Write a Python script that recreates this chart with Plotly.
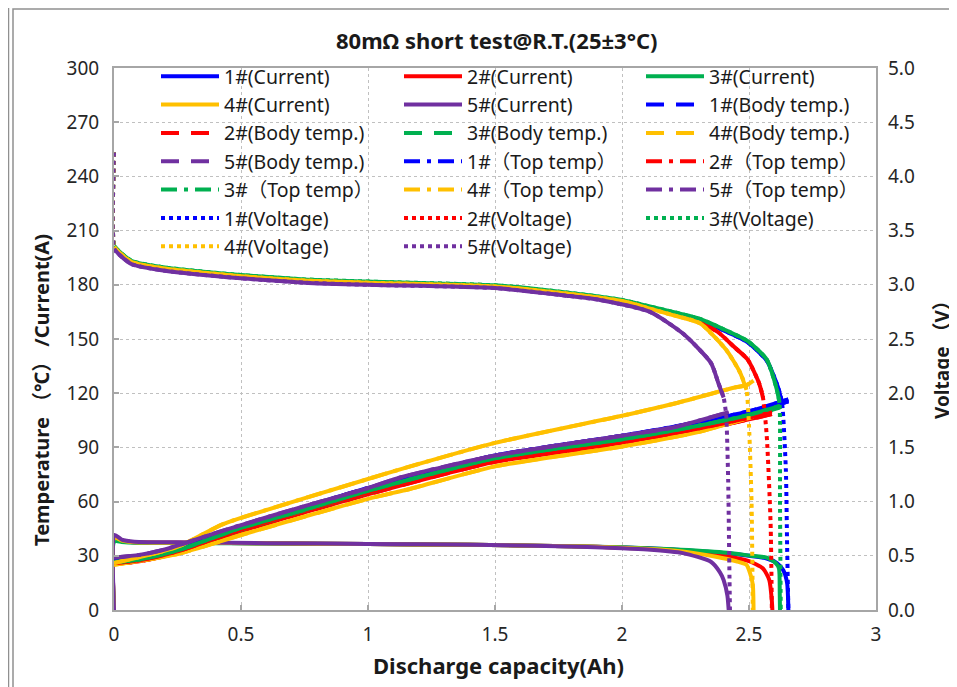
import plotly.graph_objects as go

# ---------------- data ----------------
cells = ["1#", "2#", "3#", "4#", "5#"]
cell_colors = ["#0000FF", "#FF0000", "#00B050", "#FFC000", "#7030A0"]

# Current (A) vs discharge capacity (Ah)
cur1_x = [0, 0.002, 0.03, 0.08, 0.3, 0.6, 1.0, 1.4, 1.8, 2.0, 2.2, 2.4, 2.5, 2.57, 2.61, 2.635, 2.65, 2.655]
cur1_y = [0, 40.0, 38.5, 37.5, 37.2, 36.9, 36.5, 36.1, 35.3, 34.6, 33.5, 31.5, 30.0, 28.5, 26.0, 22.0, 15.0, 0]
cur2_x = [0, 0.002, 0.03, 0.08, 0.3, 0.6, 1.0, 1.4, 1.8, 2.0, 2.2, 2.4, 2.5, 2.555, 2.58, 2.59, 2.592]
cur2_y = [0, 40.0, 38.5, 37.5, 37.2, 36.9, 36.5, 36.1, 35.3, 34.5, 33.3, 30.0, 27.0, 23.0, 16.6, 5.0, 0]
cur3_x = [0, 0.002, 0.03, 0.08, 0.3, 0.6, 1.0, 1.4, 1.8, 2.0, 2.2, 2.4, 2.5, 2.57, 2.605, 2.618, 2.621, 2.622]
cur3_y = [0, 38.0, 37.6, 37.2, 37.0, 36.8, 36.5, 36.1, 35.3, 34.7, 33.6, 31.8, 30.2, 29.0, 26.0, 23.0, 10.0, 0]
cur4_x = [0, 0.002, 0.03, 0.08, 0.3, 0.6, 1.0, 1.4, 1.8, 2.0, 2.2, 2.37, 2.45, 2.49, 2.505, 2.515, 2.518]
cur4_y = [0, 40.0, 38.5, 37.5, 37.2, 36.9, 36.5, 36.1, 35.3, 34.5, 33.0, 29.5, 27.0, 25.0, 20.0, 14.0, 0]
cur5_x = [0, 0.002, 0.03, 0.08, 0.3, 0.6, 1.0, 1.4, 1.8, 2.0, 2.1, 2.24, 2.35, 2.385, 2.40, 2.415, 2.42]
cur5_y = [0, 41.5, 39.0, 37.8, 37.4, 37.0, 36.6, 36.1, 35.2, 34.2, 33.5, 31.5, 26.7, 21.0, 16.6, 8.0, 0]

# Body temperature (degC)
body1_x = [0, 0.1, 0.25, 0.5, 0.75, 1.0, 1.5, 2.0, 2.3, 2.5, 2.655]
body1_y = [26.5, 28.0, 33.0, 45.5, 56.0, 66.5, 84.5, 95.5, 103.0, 109.0, 115.5]
body2_x = [0, 0.1, 0.25, 0.5, 0.75, 1.0, 1.5, 2.0, 2.3, 2.5, 2.59]
body2_y = [25.5, 27.0, 31.5, 43.5, 54.0, 64.0, 82.0, 92.0, 99.5, 105.5, 108.5]
body3_x = [0, 0.1, 0.25, 0.5, 0.75, 1.0, 1.5, 2.0, 2.3, 2.5, 2.622]
body3_y = [26.0, 27.5, 32.5, 44.5, 55.0, 65.0, 83.5, 94.0, 101.5, 107.5, 112.0]
body4_x = [0, 0.25, 0.5, 1.0, 1.165, 1.5, 2.0, 2.3, 2.49, 2.518]
body4_y = [25.0, 31.0, 41.5, 61.5, 67.0, 79.5, 90.5, 98.5, 106.0, 107.0]
body5_x = [0, 0.1, 0.2, 0.3, 0.42, 0.5, 0.75, 1.0, 1.13, 1.5, 2.0, 2.2, 2.42]
body5_y = [28.5, 30.0, 33.0, 37.5, 43.0, 46.5, 57.0, 67.0, 73.0, 85.0, 96.0, 100.5, 109.0]

# Top temperature (degC)
top1_x = [0, 0.1, 0.25, 0.5, 0.75, 1.0, 1.5, 2.0, 2.3, 2.5, 2.655]
top1_y = [27.0, 28.5, 34.0, 46.5, 57.0, 67.5, 85.5, 96.5, 104.0, 110.0, 116.5]
top2_x = [0, 0.1, 0.25, 0.5, 0.75, 1.0, 1.5, 2.0, 2.3, 2.5, 2.59]
top2_y = [26.0, 27.5, 32.5, 44.5, 55.0, 65.0, 83.0, 93.0, 100.5, 106.5, 110.0]
top3_x = [0, 0.1, 0.25, 0.5, 0.75, 1.0, 1.5, 2.0, 2.3, 2.5, 2.622]
top3_y = [26.5, 28.0, 33.0, 45.5, 55.5, 66.0, 84.0, 94.5, 102.0, 108.0, 113.0]
top4_x = [0, 0.25, 0.42, 0.5, 1.0, 1.13, 1.5, 2.0, 2.2, 2.44, 2.49, 2.518]
top4_y = [26.0, 35.0, 47.0, 51.0, 72.5, 78.0, 92.5, 107.5, 114.0, 123.0, 124.5, 127.0]
top5_x = [0, 0.1, 0.2, 0.3, 0.42, 0.5, 0.75, 1.0, 1.13, 1.5, 2.0, 2.2, 2.42]
top5_y = [29.0, 30.5, 33.5, 38.0, 43.5, 47.0, 57.5, 67.5, 73.5, 85.5, 96.5, 101.0, 109.5]

# Voltage (V)
volt1_x = [0, 0.001, 0.02, 0.07, 0.2, 0.5, 0.75, 1.0, 1.5, 1.78, 2.0, 2.11, 2.2, 2.307, 2.4, 2.495, 2.57, 2.615, 2.63, 2.645, 2.65, 2.655]
volt1_y = [4.22, 3.35, 3.30, 3.21, 3.15, 3.08, 3.04, 3.02, 2.985, 2.92, 2.85, 2.79, 2.74, 2.675, 2.58, 2.47, 2.30, 2.05, 1.91, 1.3, 0.6, 0]
volt2_x = [0, 0.001, 0.02, 0.07, 0.2, 0.5, 0.75, 1.0, 1.5, 1.78, 2.0, 2.11, 2.2, 2.3, 2.38, 2.44, 2.495, 2.54, 2.555, 2.57, 2.585, 2.59]
volt2_y = [4.22, 3.35, 3.30, 3.21, 3.15, 3.08, 3.04, 3.02, 2.985, 2.92, 2.85, 2.79, 2.735, 2.665, 2.56, 2.43, 2.31, 2.09, 1.96, 1.6, 0.8, 0]
volt3_x = [0, 0.001, 0.02, 0.07, 0.2, 0.5, 0.75, 1.0, 1.5, 1.78, 2.0, 2.11, 2.2, 2.307, 2.4, 2.495, 2.57, 2.61, 2.62, 2.622, 2.625]
volt3_y = [4.22, 3.36, 3.31, 3.22, 3.16, 3.09, 3.05, 3.03, 2.995, 2.93, 2.86, 2.80, 2.75, 2.685, 2.59, 2.48, 2.31, 2.03, 1.91, 1.0, 0]
volt4_x = [0, 0.001, 0.02, 0.07, 0.2, 0.5, 0.75, 1.0, 1.5, 1.78, 2.0, 2.11, 2.2, 2.307, 2.41, 2.465, 2.49, 2.50, 2.51, 2.515]
volt4_y = [4.22, 3.35, 3.30, 3.21, 3.15, 3.08, 3.04, 3.02, 2.985, 2.92, 2.85, 2.78, 2.72, 2.645, 2.40, 2.19, 2.03, 1.7, 1.0, 0]
volt5_x = [0, 0.001, 0.02, 0.07, 0.2, 0.5, 0.75, 1.0, 1.5, 1.78, 1.913, 2.11, 2.24, 2.35, 2.38, 2.40, 2.41, 2.418, 2.422, 2.425]
volt5_y = [4.22, 3.33, 3.28, 3.19, 3.13, 3.06, 3.02, 3.00, 2.97, 2.90, 2.86, 2.75, 2.55, 2.28, 2.09, 1.96, 1.80, 1.2, 0.5, 0]

# tick labels
x_ticks = [0, 0.5, 1, 1.5, 2, 2.5, 3]
left_ticks = [0, 30, 60, 90, 120, 150, 180, 210, 240, 270, 300]
right_ticks = [0.0, 0.5, 1.0, 1.5, 2.0, 2.5, 3.0, 3.5, 4.0, 4.5, 5.0]

current_x = [cur1_x, cur2_x, cur3_x, cur4_x, cur5_x]
current_y = [cur1_y, cur2_y, cur3_y, cur4_y, cur5_y]
body_x = [body1_x, body2_x, body3_x, body4_x, body5_x]
body_y = [body1_y, body2_y, body3_y, body4_y, body5_y]
top_x = [top1_x, top2_x, top3_x, top4_x, top5_x]
top_y = [top1_y, top2_y, top3_y, top4_y, top5_y]
volt_x = [volt1_x, volt2_x, volt3_x, volt4_x, volt5_x]
volt_y = [volt1_y, volt2_y, volt3_y, volt4_y, volt5_y]

# ---------------- figure ----------------
FONT = "Noto Sans, Noto Sans CJK SC, sans-serif"
fig = go.Figure()
legends = ["legend", "legend2", "legend3"]
LW = 4

series = []
for i, c in enumerate(cells):
    series.append((f"{c}(Current)", current_x[i], current_y[i], "y", "solid", i, False))
for i, c in enumerate(cells):
    series.append((f"{c}(Body temp.)", body_x[i], body_y[i], "y", "18px,12px", i, True))
for i, c in enumerate(cells):
    series.append((f"{c}（Top temp）", top_x[i], top_y[i], "y", "16px,7px,4px,7px", i, True))
for i, c in enumerate(cells):
    series.append((f"{c}(Voltage)", volt_x[i], volt_y[i], "y2", "4px,4px", i, True))

for k, (name, xs, ys, yax, dash, ci, overlay) in enumerate(series):
    col = cell_colors[ci]
    grp = f"g{k}"
    fig.add_trace(go.Scatter(
        x=xs, y=ys, yaxis=yax, name=name, mode="lines",
        line=dict(color=col, width=LW, dash=dash, shape="spline", smoothing=0.6),
        legend=legends[k % 3], legendgroup=grp,
    ))
    if overlay:
        if yax == "y2":
            ox = [x for x, v in zip(xs, ys) if x > 0 and v >= 1.85]
            oy = [v for x, v in zip(xs, ys) if x > 0 and v >= 1.85]
        else:
            ox, oy = xs, ys
        fig.add_trace(go.Scatter(
            x=ox, y=oy, yaxis=yax, name=name, mode="lines",
            line=dict(color=col, width=LW, shape="spline", smoothing=0.6), showlegend=False,
            legend=legends[k % 3], legendgroup=grp, hoverinfo="skip",
        ))

# The page body adds an 8px offset; positions below are given in screen pixels.
# Plot area on screen: x 114..876, y 68..610
def px(xp):
    return (xp - 114) / 762.0
def py(yp):
    return (610 - yp) / 542.0

leg_common = dict(
    bgcolor="rgba(0,0,0,0)", borderwidth=0, font=dict(family=FONT, size=19.5, color="#1a1a1a"),
    itemwidth=58, xanchor="left", yanchor="top", orientation="v", tracegroupgap=0,
    itemclick=False, itemdoubleclick=False,
)
fig.update_layout(
    legend=dict(x=px(156), y=py(57), **leg_common),
    legend2=dict(x=px(399), y=py(57), **leg_common),
    legend3=dict(x=px(641), y=py(57), **leg_common),
)

grid = dict(showgrid=True, gridcolor="#c0c0c0", griddash="dot", gridwidth=1)
axis_line = dict(showline=True, linecolor="#a6a6a6", linewidth=2, mirror=True,
                 ticks="inside", ticklen=5, tickcolor="#a6a6a6", tickwidth=2)
tickfont = dict(family=FONT, size=19, color="#262626")
title_color = "#1a1a1a"
ann = dict(xref="paper", yref="paper", showarrow=False, xanchor="center", yanchor="middle")

fig.update_layout(
    width=957, height=687,
    margin=dict(l=106, r=89, t=60, b=85, autoexpand=False),
    paper_bgcolor="white", plot_bgcolor="white",
    font=dict(family=FONT),
    xaxis=dict(range=[0, 3], tickvals=x_ticks, ticktext=[str(t) for t in x_ticks],
               tickfont=tickfont, zeroline=False, ticklabelstandoff=6, **grid, **axis_line),
    yaxis=dict(range=[0, 300], tickvals=left_ticks, tickfont=tickfont,
               zeroline=False, ticklabelstandoff=9, **grid, **axis_line),
    yaxis2=dict(range=[0, 5], tickvals=right_ticks, ticktext=[f"{t:.1f}" for t in right_ticks],
                overlaying="y", side="right", showgrid=False, zeroline=False,
                tickfont=tickfont, showline=False, ticks="", ticklabelstandoff=11),
    annotations=[
        dict(text="<b>80mΩ short test@R.T.(25±3°C)</b>", x=px(497), y=py(40),
             font=dict(family=FONT, size=22, color=title_color), **ann),
        dict(text="<b>Discharge capacity(Ah)</b>", x=px(498), y=py(665),
             font=dict(family=FONT, size=22, color=title_color), **ann),
        dict(text="<b>Temperature （℃） /Current(A)</b>", x=px(42), y=py(390), textangle=-90,
             font=dict(family=FONT, size=20, color=title_color), **ann),
        dict(text="<b>Voltage （V）</b>", x=px(942), y=py(355), textangle=-90,
             font=dict(family=FONT, size=19, color=title_color), **ann),
    ],
    shapes=[
        dict(type="line", xref="paper", yref="paper", x0=px(8.5), x1=px(8.5), y0=py(0), y1=py(700),
             line=dict(color="#909090", width=1.5)),
        dict(type="rect", xref="paper", yref="paper", x0=px(13), x1=px(1000), y0=py(9), y1=py(720),
             line=dict(color="#909090", width=1.5)),
    ],
)

fig.write_html("out.html")
